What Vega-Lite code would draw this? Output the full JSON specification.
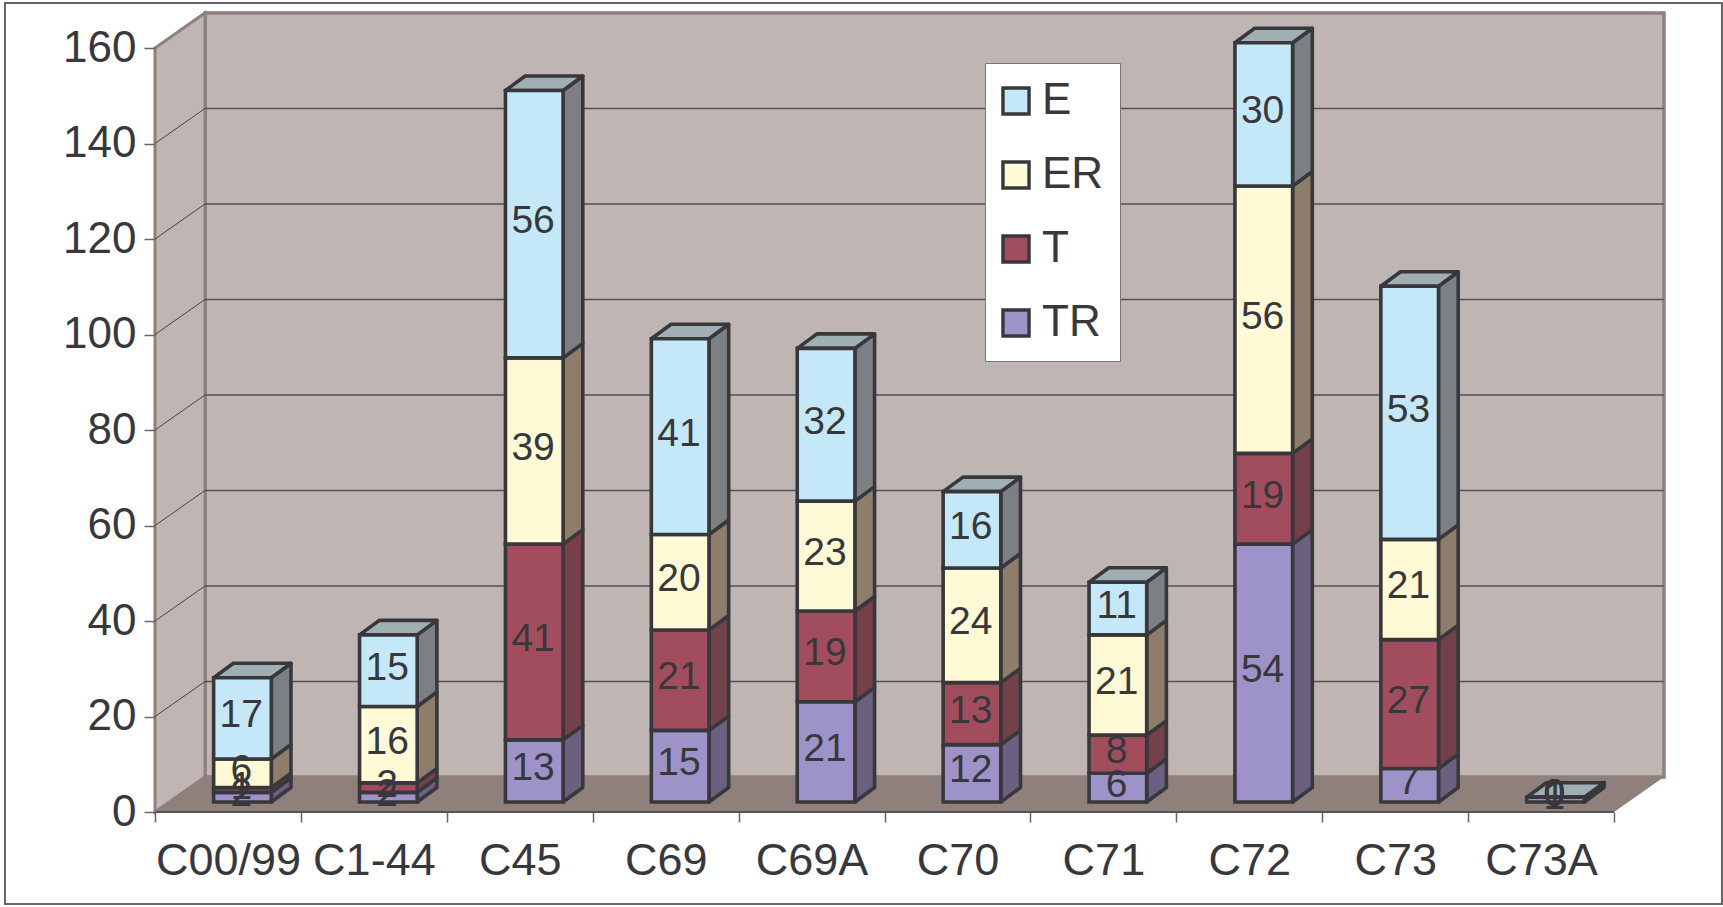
{"$schema":"https://vega.github.io/schema/vega-lite/v6.json","width":1509,"height":799,"autosize":"none","padding":{"left":155,"top":13,"right":59,"bottom":95},"background":"white","view":{"stroke":null},"config":{"font":"Liberation Sans"},
"data":{"values":[
{"cat":"C00/99","idx":0,"series":"TR","order":1,"value":2},{"cat":"C00/99","idx":0,"series":"T","order":2,"value":1},{"cat":"C00/99","idx":0,"series":"ER","order":3,"value":6},{"cat":"C00/99","idx":0,"series":"E","order":4,"value":17},
{"cat":"C1-44","idx":1,"series":"TR","order":1,"value":2},{"cat":"C1-44","idx":1,"series":"T","order":2,"value":2},{"cat":"C1-44","idx":1,"series":"ER","order":3,"value":16},{"cat":"C1-44","idx":1,"series":"E","order":4,"value":15},
{"cat":"C45","idx":2,"series":"TR","order":1,"value":13},{"cat":"C45","idx":2,"series":"T","order":2,"value":41},{"cat":"C45","idx":2,"series":"ER","order":3,"value":39},{"cat":"C45","idx":2,"series":"E","order":4,"value":56},
{"cat":"C69","idx":3,"series":"TR","order":1,"value":15},{"cat":"C69","idx":3,"series":"T","order":2,"value":21},{"cat":"C69","idx":3,"series":"ER","order":3,"value":20},{"cat":"C69","idx":3,"series":"E","order":4,"value":41},
{"cat":"C69A","idx":4,"series":"TR","order":1,"value":21},{"cat":"C69A","idx":4,"series":"T","order":2,"value":19},{"cat":"C69A","idx":4,"series":"ER","order":3,"value":23},{"cat":"C69A","idx":4,"series":"E","order":4,"value":32},
{"cat":"C70","idx":5,"series":"TR","order":1,"value":12},{"cat":"C70","idx":5,"series":"T","order":2,"value":13},{"cat":"C70","idx":5,"series":"ER","order":3,"value":24},{"cat":"C70","idx":5,"series":"E","order":4,"value":16},
{"cat":"C71","idx":6,"series":"TR","order":1,"value":6},{"cat":"C71","idx":6,"series":"T","order":2,"value":8},{"cat":"C71","idx":6,"series":"ER","order":3,"value":21},{"cat":"C71","idx":6,"series":"E","order":4,"value":11},
{"cat":"C72","idx":7,"series":"TR","order":1,"value":54},{"cat":"C72","idx":7,"series":"T","order":2,"value":19},{"cat":"C72","idx":7,"series":"ER","order":3,"value":56},{"cat":"C72","idx":7,"series":"E","order":4,"value":30},
{"cat":"C73","idx":8,"series":"TR","order":1,"value":7},{"cat":"C73","idx":8,"series":"T","order":2,"value":27},{"cat":"C73","idx":8,"series":"ER","order":3,"value":21},{"cat":"C73","idx":8,"series":"E","order":4,"value":53},
{"cat":"C73A","idx":9,"series":"TR","order":1,"value":1},{"cat":"C73A","idx":9,"series":"T","order":2,"value":0},{"cat":"C73A","idx":9,"series":"ER","order":3,"value":0},{"cat":"C73A","idx":9,"series":"E","order":4,"value":0}
]},
"transform":[
{"stack":"value","groupby":["cat"],"sort":[{"field":"order","order":"ascending"}],"as":["v0","v1"]},
{"calculate":"datum.idx+0.402","as":"x0"},{"calculate":"datum.idx+0.797","as":"x1"},{"calculate":"(datum.x0+datum.x1)/2-0.008","as":"xm"},
{"calculate":"datum.v0+2.1","as":"b0"},{"calculate":"datum.v1+2.1","as":"b1"},{"calculate":"(datum.b0+datum.b1)/2","as":"bm"}
],
"layer":[
{"data":{"values":[{"f":1}]},"mark":{"type":"rect","fill":"white","stroke":"#666666","strokeWidth":2},"encoding":{
"x":{"datum":-1.028,"type":"quantitative","scale":{"domain":[0,10.3427],"nice":false,"zero":false},"axis":{"title":null,"values":[0,1,2,3,4,5,6,7,8,9,10],"tickSize":10,"tickColor":"#666666","tickWidth":1.5,"domain":false,"labelFontSize":45,"labelColor":"#38383C","labelPadding":16,"labelOffset":73,"labelFlush":false,"labelBound":false,"labelOverlap":false,"grid":false,"zindex":1,"labelExpr":"['C00/99','C1-44','C45','C69','C69A','C70','C71','C72','C73','C73A',''][datum.value]"}},
"x2":{"datum":10.74},
"y":{"datum":-19.27,"type":"quantitative","scale":{"domain":[0,167.33],"nice":false,"zero":false},"axis":{"title":null,"values":[0,20,40,60,80,100,120,140,160],"tickSize":11,"tickColor":"#666666","tickWidth":1.5,"domain":false,"labelFontSize":44,"labelColor":"#38383C","labelPadding":8,"grid":false,"zindex":1}},
"y2":{"datum":169.4}}},
{"data":{"values":[{"f":1}]},"mark":{"type":"rect","fill":"#BFB5B3","stroke":"#8F807C","strokeWidth":3.5},"encoding":{"x":{"datum":0.3427,"type":"quantitative"},"x2":{"datum":10.3427},"y":{"datum":7.33,"type":"quantitative"},"y2":{"datum":167.33}}},
{"data":{"values":[{"t":0},{"t":1}]},"transform":[{"calculate":"0.3427*datum.t","as":"xa"},{"calculate":"7.33*datum.t","as":"ya"},{"calculate":"160+7.33*datum.t","as":"yb"}],"mark":{"type":"area","orient":"vertical","fill":"#BFB5B3","stroke":"#8F807C","strokeWidth":3},"encoding":{"x":{"field":"xa","type":"quantitative"},"y":{"field":"ya","type":"quantitative"},"y2":{"field":"yb"}}},
{"data":{"values":[{"t":0},{"t":1}]},"transform":[{"calculate":"0.3427*datum.t","as":"xa"},{"calculate":"10+0.3427*datum.t","as":"xb"},{"calculate":"7.33*datum.t","as":"ya"}],"mark":{"type":"area","orient":"horizontal","fill":"#8F807C"},"encoding":{"y":{"field":"ya","type":"quantitative"},"x":{"field":"xa","type":"quantitative"},"x2":{"field":"xb"}}},
{"data":{"values":[{"f":1}]},"mark":{"type":"rule","color":"#555555","strokeWidth":2},"encoding":{"x":{"datum":0,"type":"quantitative"},"x2":{"datum":10},"y":{"datum":0,"type":"quantitative"}}},
{"data":{"values":[{"tick":20},{"tick":40},{"tick":60},{"tick":80},{"tick":100},{"tick":120},{"tick":140}]},"transform":[{"calculate":"datum.tick+7.33","as":"back"}],"mark":{"type":"rule","color":"#555055","strokeWidth":1.5},"encoding":{"x":{"datum":0.3427,"type":"quantitative"},"x2":{"datum":10.3427},"y":{"field":"back","type":"quantitative"}}},
{"data":{"values":[{"tick":20},{"tick":40},{"tick":60},{"tick":80},{"tick":100},{"tick":120},{"tick":140}]},"transform":[{"calculate":"datum.tick+7.33","as":"back"}],"mark":{"type":"rule","color":"#444444","strokeWidth":1},"encoding":{"x":{"datum":0,"type":"quantitative"},"x2":{"datum":0.3427},"y":{"field":"tick","type":"quantitative"},"y2":{"field":"back"}}},
{"transform":[{"calculate":"[0,1]","as":"t"},{"flatten":["t"]},{"calculate":"datum.x1+0.135*datum.t","as":"xs"},{"calculate":"datum.b0+3.04*datum.t","as":"ya"},{"calculate":"datum.b1+3.04*datum.t","as":"yb"}],"mark":{"type":"area","orient":"vertical","stroke":"#38383C","strokeWidth":3.6,"strokeJoin":"round"},"encoding":{"x":{"field":"xs","type":"quantitative"},"y":{"field":"ya","type":"quantitative"},"y2":{"field":"yb"},"detail":[{"field":"cat"},{"field":"series"}],"fill":{"condition":[{"test":"datum.series=='E'","value":"#7D8083"},{"test":"datum.series=='ER'","value":"#8F7D6B"},{"test":"datum.series=='T'","value":"#74404A"}],"value":"#6B6080"},"order":{"field":"order"}}},
{"transform":[{"filter":"datum.order==4"},{"calculate":"[0,1]","as":"t"},{"flatten":["t"]},{"calculate":"datum.x0+0.135*datum.t","as":"xa"},{"calculate":"datum.x1+0.135*datum.t","as":"xb"},{"calculate":"datum.b1+3.04*datum.t","as":"ya"}],"mark":{"type":"area","orient":"horizontal","fill":"#9FAFB3","stroke":"#38383C","strokeWidth":3.6,"strokeJoin":"round"},"encoding":{"y":{"field":"ya","type":"quantitative"},"x":{"field":"xa","type":"quantitative"},"x2":{"field":"xb"},"detail":{"field":"cat"}}},
{"mark":{"type":"rect","stroke":"#38383C","strokeWidth":3.6},"encoding":{"x":{"field":"x0","type":"quantitative"},"x2":{"field":"x1"},"y":{"field":"b0","type":"quantitative"},"y2":{"field":"b1"},"color":{"field":"series","type":"nominal","scale":{"domain":["E","ER","T","TR"],"range":["#C5E8F9","#FFFAD6","#A24D5E","#9D93C9"]},"legend":{"title":null,"orient":"none","legendX":830,"legendY":50,"fillColor":"white","strokeColor":"#777777","padding":16,"symbolType":"square","symbolSize":680,"symbolStrokeWidth":3.4,"symbolStrokeColor":"#38383C","symbolOpacity":1,"symbolOffset":-7,"labelFontSize":44,"labelColor":"#38383C","labelOffset":4,"rowPadding":30,"labelFont":"Liberation Sans"}},"order":{"field":"order"}}},
{"mark":{"type":"text","fontSize":39,"color":"#38383C","dy":-3},"encoding":{"x":{"field":"xm","type":"quantitative"},"y":{"field":"bm","type":"quantitative"},"text":{"field":"value","type":"quantitative"}}}
]}
